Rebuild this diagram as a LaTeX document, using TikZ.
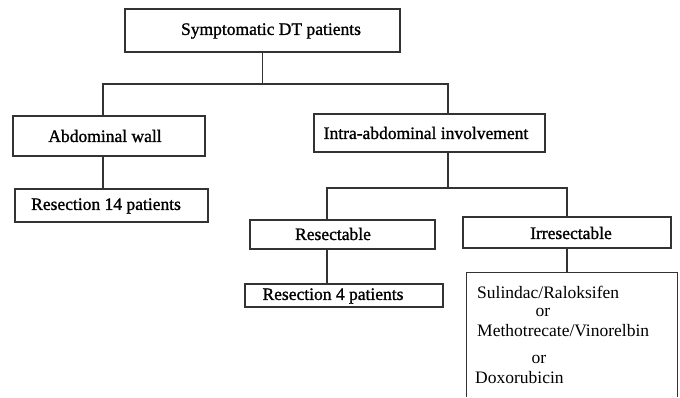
\documentclass[tikz,border=0pt]{standalone}
\usepackage{fontspec}
\setmainfont{Liberation Serif}
\newfontfamily\boldishfont[FakeBold=1.2]{Liberation Serif}
\begin{document}
\begin{tikzpicture}[x=1pt,y=-1pt,
  box/.style={draw=black!80,line width=1.2pt,inner sep=0pt,minimum width=#1},
  txt/.style={inner sep=0pt,font=\fontsize{17.5}{21}\selectfont},
  btxt/.style={inner sep=0pt,font=\boldishfont\fontsize{17.5}{21}\selectfont},
  conn/.style={draw=black!80,line width=1.2pt}]
\useasboundingbox[fill=white] (0,0) rectangle (680,397);
% boxes
\node[box=275pt,minimum height=43pt] (top) at (262.5,30.5) {};
\node[box=192pt,minimum height=40pt] (abd) at (109,136) {};
\node[box=193pt,minimum height=33pt] (res14) at (111.5,205.5) {};
\node[box=231pt,minimum height=38pt] (intra) at (429.5,133) {};
\node[box=185pt,minimum height=29pt] (resect) at (342.5,234.5) {};
\node[box=198pt,minimum height=23pt] (res4) at (344,295.5) {};
\node[box=208pt,minimum height=31pt] (irres) at (567,232.5) {};
\node[inner sep=0pt,minimum width=210pt,minimum height=124pt] (drugs) at (572,335) {};
\draw[conn] (drugs.south west) -- (drugs.north west) -- (drugs.north east) -- (drugs.south east);
% texts
\node[btxt] (t1) at (271,31) {Symptomatic DT patients};
\node[btxt] (t2) at (105,136) {Abdominal wall};
\node[btxt,anchor=west] (t3) at (31,206) {Resection 14 patients};
\node[btxt] (t4) at (426,133) {Intra-abdominal involvement};
\node[btxt] (t5) at (333,234) {Resectable};
\node[btxt] (t6) at (333,296) {Resection 4 patients};
\node[btxt] (t7) at (571,233) {Irresectable};
\node[txt,anchor=west] (d1) at (477,292) {Sulindac/Raloksifen};
\node[txt] (d2) at (543,312) {or};
\node[txt,anchor=west] (d3) at (477,331) {Methotrecate/Vinorelbin};
\node[txt] (d4) at (539,359) {or};
\node[txt,anchor=west] (d5) at (475,378) {Doxorubicin};
% connectors
\coordinate (jL) at (103,84);
\coordinate (jR) at (448,84);
\coordinate (jM) at (448,188);
\coordinate (jA) at (327,188);
\coordinate (jB) at (567,188);
\draw[conn] (top.south) -- (top.south |- jL);
\draw[conn] (abd.north -| jL) |- (jR) -- (intra.north -| jR);
\draw[conn] (abd.south -| jL) -- (res14.north -| jL);
\draw[conn] (intra.south -| jM) -- (jM);
\draw[conn] (resect.north -| jA) |- (jB) -- (irres.north -| jB);
\draw[conn] (resect.south -| jA) -- (res4.north -| jA);
\draw[conn] (irres.south -| jB) -- (drugs.north -| jB);
\end{tikzpicture}
\end{document}
